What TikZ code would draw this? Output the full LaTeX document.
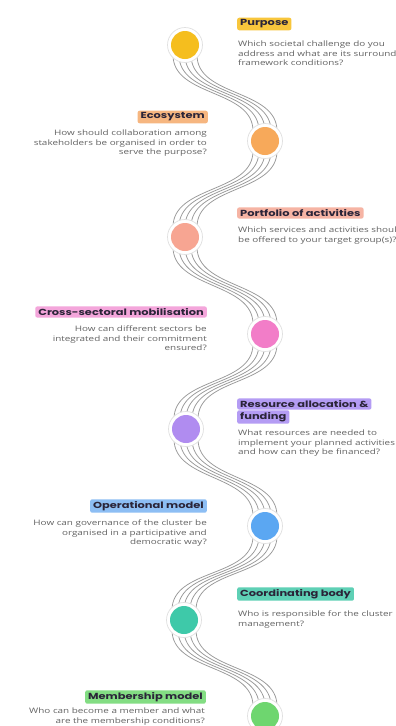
\documentclass[tikz,border=0pt]{standalone}
\usepackage{fontspec}
\setmainfont{Open Sans}
\newfontfamily\bodyfont[FakeStretch=1.32]{Open Sans}
\newfontfamily\titlefont[FakeStretch=1.3]{Poppins}
\usetikzlibrary{calc}
\definecolor{dA}{HTML}{F5BE1E}\definecolor{lA}{HTML}{F8C63C}
\definecolor{dB}{HTML}{F7A95A}\definecolor{lB}{HTML}{F6B680}
\definecolor{dC}{HTML}{F7A592}\definecolor{lC}{HTML}{F6B4A4}
\definecolor{dD}{HTML}{F27DC8}\definecolor{lD}{HTML}{F4A6DB}
\definecolor{dE}{HTML}{B08CF0}\definecolor{lE}{HTML}{B49CF4}
\definecolor{dF}{HTML}{5BA7F2}\definecolor{lF}{HTML}{8DBEF4}
\definecolor{dG}{HTML}{3EC9A9}\definecolor{lG}{HTML}{5ED0B5}
\definecolor{dH}{HTML}{6ED66F}\definecolor{lH}{HTML}{83DD83}
\definecolor{titlecol}{HTML}{2A2438}
\definecolor{bodycol}{HTML}{636363}
\begin{document}
\begin{tikzpicture}[x=1pt,y=-1pt,
  halo/.style={circle,minimum size=35pt,inner sep=0pt,fill=white,draw=black!12,line width=0.7pt},
  dot/.style={circle,minimum size=28pt,inner sep=0pt,fill=#1},
  strand/.style={draw=black!40,line width=0.75pt},
  ttl/.style={fill=#1,rounded corners=2pt,inner xsep=3pt,inner ysep=2pt,
    font=\titlefont\bfseries\fontsize{8.8}{10}\selectfont,text=titlecol},
  bodyR/.style={font=\bodyfont\fontsize{7.5}{9.3}\selectfont,text=bodycol,inner sep=0pt,align=left,anchor=north west},
  bodyL/.style={font=\bodyfont\fontsize{7.5}{9.3}\selectfont,text=bodycol,inner sep=0pt,align=right,anchor=north east}
]
\useasboundingbox (0,0) rectangle (396,726);
\clip (0,0) rectangle (396,726);
\fill[white] (0,0) rectangle (396,726);
% circle positions
\coordinate (p1) at (185,45);
\coordinate (p2) at (265,141);
\coordinate (p3) at (185,237);
\coordinate (p4) at (265,334);
\coordinate (p5) at (186,429);
\coordinate (p6) at (265,526);
\coordinate (p7) at (184,620);
\coordinate (p8) at (265,716);
% strand bundles
\foreach \a/\b in {p1/p2,p2/p3,p3/p4,p4/p5,p5/p6,p6/p7,p7/p8}{
  \foreach \d in {-12,-6,0,6,12}{
    \draw[strand] ($(\a)+(\d,10)$) .. controls ($(\a)+(\d,52)$) and ($(\b)+(\d,-52)$) .. ($(\b)+(\d,-10)$);
  }
}
% circles
\foreach \i/\c in {1/dA,2/dB,3/dC,4/dD,5/dE,6/dF,7/dG,8/dH}{
  \node[halo] (h\i) at (p\i) {};
  \node[dot=\c] (c\i) at (p\i) {};
}
% labels right side
\node[ttl=lA,anchor=west] (t1) at (237,24) {Purpose};
\node[bodyR] (b1) at (238,41) {Which societal challenge do you\\address and what are its surrounding\\framework conditions?};
\node[ttl=lC,anchor=west] (t3) at (237,213) {Portfolio of activities};
\node[bodyR] (b3) at (238,227) {Which services and activities should\\be offered to your target group(s)?};
\node[ttl=lE,anchor=west] (t5a) at (237,404) {Resource allocation \&};
\node[ttl=lE,anchor=west] (t5b) at (237,417) {funding};
\node[bodyR] (b5) at (238,430) {What resources are needed to\\implement your planned activities\\and how can they be financed?};
\node[ttl=lG,anchor=west] (t7) at (237,594) {Coordinating body};
\node[bodyR] (b7) at (238,611) {Who is responsible for the cluster\\management?};
% labels left side
\node[ttl=lB,anchor=east] (t2) at (208,117) {Ecosystem};
\node[bodyL] (b2) at (207,130) {How should collaboration among\\stakeholders be organised in order to\\serve the purpose?};
\node[ttl=lD,anchor=east] (t4) at (207,312) {Cross-sectoral mobilisation};
\node[bodyL] (b4) at (207,326) {How can different sectors be\\integrated and their commitment\\ensured?};
\node[ttl=lF,anchor=east] (t6) at (207,506) {Operational model};
\node[bodyL] (b6) at (207,520) {How can governance of the cluster be\\organised in a participative and\\democratic way?};
\node[ttl=lH,anchor=east] (t8) at (206,697) {Membership model};
\node[bodyL] (b8) at (205,708) {Who can become a member and what\\are the membership conditions?};
\end{tikzpicture}
\end{document}
